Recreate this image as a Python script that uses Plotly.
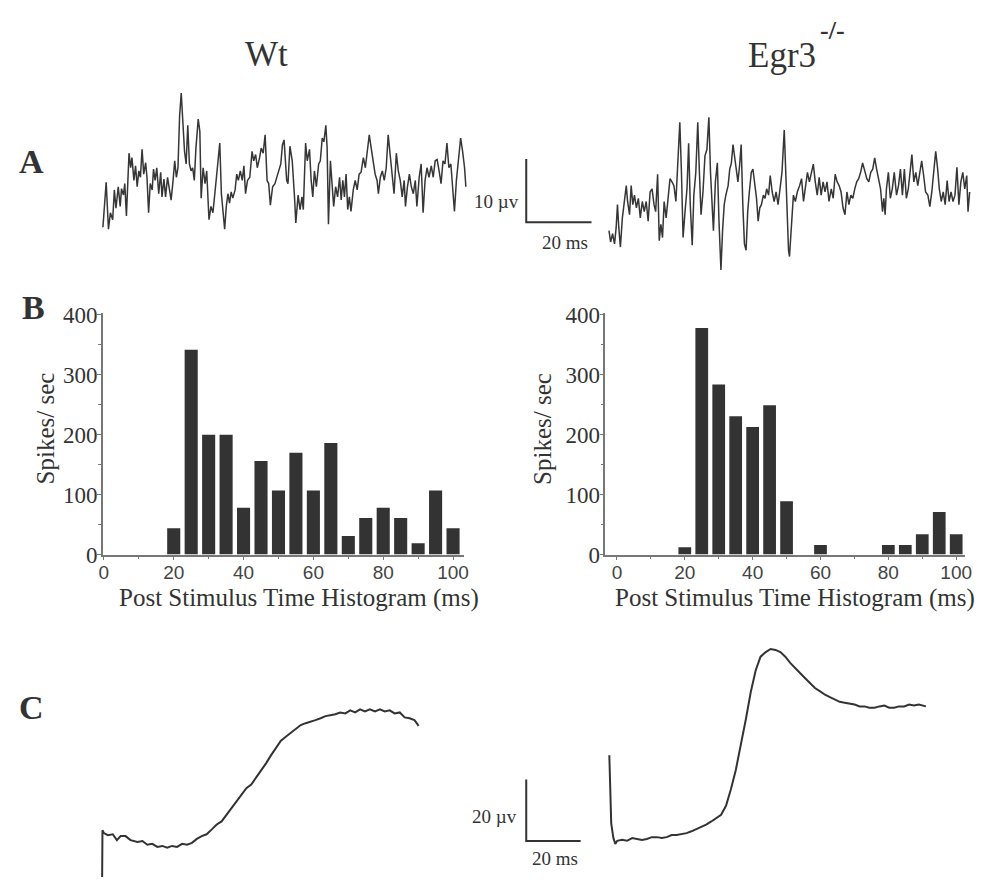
import plotly.graph_objects as go

# ---------------- DATA ----------------
# Panel B: post-stimulus time histogram (bin centre, ms) and rates (spikes/sec)
BIN_MS = [20, 25, 30, 35, 40, 45, 50, 55, 60, 65, 70, 75, 80, 85, 90, 95, 100]
WT_RATE = [44, 342, 200, 200, 78, 156, 107, 170, 107, 186, 31, 61, 78, 61, 19, 107, 44]
EGR3_RATE = [12, 378, 284, 231, 213, 249, 89, 0, 16, 0, 0, 0, 16, 16, 34, 71, 34]
X_TICKS = [0, 20, 40, 60, 80, 100]
X_MINOR = [10, 30, 50, 70, 90]
Y_TICKS = [0, 100, 200, 300, 400]
Y_MINOR = [50, 150, 250, 350]

# Panel A: spontaneous recordings (time ms, potential µV)
WT_A_T = [0, 1, 1.7, 2.3, 3, 3.5, 4, 4.7, 5.3, 5.7, 6.3, 6.7, 7.2, 8, 8.5, 8.9, 9.5, 10, 10.5, 11, 11.5, 12, 12.5, 13.1,
          13.5, 14, 14.5, 15.1, 15.5, 16, 16.5, 17.1, 17.7, 18.1, 18.7, 19.2, 19.8, 20.3, 20.9, 21.5, 22, 22.5, 23, 23.5,
          24, 24.5, 25, 25.5, 26, 26.5, 27, 27.5, 28, 28.5, 29.2, 29.7, 30.1, 30.7, 31.3, 31.8, 32.5, 33.1, 33.7, 34.5,
          35.3, 35.8, 36.3, 36.8, 37.3, 37.8, 38.3, 38.8, 39.3, 39.8, 40.5, 41, 41.5, 42.1, 42.7, 43.2, 43.7, 44.3, 45,
          45.7, 46.2, 46.8, 47.3, 48, 48.5, 49.1, 49.7, 50.3, 50.8, 51.3, 52, 52.7, 53.3, 54, 54.5, 55, 55.5, 56.3, 56.7,
          57.3, 58, 58.7, 59.1, 59.8, 60.4, 61, 61.4, 62.1, 62.6, 63.3, 63.8, 64.3, 64.8, 65.4, 66.1, 66.6, 67.2, 67.7,
          68.3, 68.7, 69.1, 69.7, 70.2, 70.7, 71.3, 71.9, 72.5, 73, 73.5, 74, 74.5, 75, 75.5, 76, 76.7, 77.3, 77.9, 78.5,
          79.1, 79.8, 80.4, 81, 81.6, 82.2, 82.8, 83.4, 84, 84.4, 85, 85.6, 86.2, 86.8, 87.4, 88, 88.6, 89.2, 89.9, 90.5,
          91.1, 91.7, 92.3, 92.7, 93.3, 93.9, 94.5, 95.1, 95.7, 96.2, 96.9, 97.5, 98.1, 98.7, 99.3, 99.9, 100.6, 101.2,
          101.8, 102.4, 103, 103.6, 104.2, 104.8, 105.4, 106, 106.6, 107.2, 107.7, 108.3, 109, 109.6, 110.2, 110.8, 111.2]
WT_A_UV = [0.3, 7.4, 0, 2.6, 1.5, 6.2, 3.3, 6.7, 3.6, 6.4, 5.4, 7.2, 2.1, 12, 9.7, 11.3, 7.7, 10, 6.7, 9.2, 8.2, 12.6, 8.7,
           10.5, 8.2, 2.6, 7.2, 6.2, 9.5, 7.7, 9.7, 5.6, 9, 5.1, 7.9, 5.1, 8.2, 6.2, 4.6, 7.7, 10.8, 8.2, 9.7, 17.9, 21.5,
           16.9, 12.3, 10.3, 16.4, 10.3, 9.2, 9.7, 7.7, 12.8, 17.4, 15.4, 4.9, 9.7, 7.2, 9.2, 1.5, 3.6, 2.6, 6.7, 11.3,
           13.6, 5.6, 2.6, 0, 3.6, 5.6, 4.1, 5.9, 4.9, 6.2, 8.7, 7.7, 9.2, 7.7, 10, 5.6, 7.7, 8.2, 12.3, 10.8, 11.8, 9.7,
           11.3, 12.8, 12, 14.9, 7.7, 7.2, 3.8, 6.7, 7.2, 8.2, 9.2, 10.3, 13.3, 14.1, 7.7, 7.2, 13.1, 10.8, 5.1, 1, 5.4,
           3.1, 5.1, 3.1, 13.6, 10.8, 12.6, 7.7, 5.1, 9.2, 6.7, 10.3, 10.8, 14.4, 13.8, 16.4, 12.8, 0.8, 10.8, 6.7, 3.6,
           6.7, 5.1, 8.2, 4.6, 7.7, 5.1, 8.7, 3.1, 5.1, 2.8, 6.2, 7.7, 6.2, 8.7, 9, 11.3, 9.7, 12.8, 14.9, 12.8, 10.3, 8.7,
           7.7, 5.6, 8.2, 9.2, 7.7, 9.7, 14.9, 11.8, 9.2, 5.6, 12, 9.2, 7.7, 5.1, 7.7, 3.6, 6.7, 8.7, 6.7, 5.6, 7.7, 3.6,
           8.2, 10.3, 2.6, 7.7, 9.7, 8.2, 10, 8.2, 10.8, 11, 9.2, 7.2, 10.8, 10.3, 13.6, 9.7, 10.3, 6.2, 2.8, 7.7, 12,
           14.4, 12.3, 9.7, 6.7]

EGR3_A_T = [0.2, 0.7, 1.3, 1.9, 2.4, 2.8, 3.2, 3.7, 4.3, 4.9, 5.5, 5.9, 6.5, 7, 7.5, 8, 8.6, 9.2, 9.8, 10.4, 11, 11.6,
            12.2, 12.8, 13.4, 14, 14.5, 15.1, 15.6, 16.1, 16.6, 17.1, 17.7, 18.3, 18.9, 19.5, 20.1, 20.7, 21.3, 21.9,
            22.4, 22.9, 23.5, 24.1, 24.6, 25.1, 25.7, 26.2, 26.8, 27.4, 27.9, 28.4, 29, 29.6, 30.2, 30.8, 31.3, 31.8,
            32.2, 32.8, 33.4, 33.9, 34.5, 35, 35.5, 36, 36.7, 37.2, 37.7, 38.2, 38.7, 39.2, 39.7, 40.2, 40.7, 41.2,
            41.7, 42.2, 42.7, 43.2, 43.8, 44.3, 44.8, 45.4, 45.9, 46.4, 46.9, 47.5, 48, 48.5, 49.1, 49.6, 50.2, 50.8,
            51.4, 52, 52.6, 53.2, 53.9, 54.7, 55.2, 55.5, 56.2, 56.7, 57.3, 57.9, 58.6, 59.2, 59.8, 60.4, 61, 61.6,
            62.2, 62.8, 63.4, 64, 64.6, 65.2, 65.8, 66.4, 67, 67.6, 68.3, 68.9, 69.5, 70.1, 70.7, 71.3, 71.9, 72.5,
            73.1, 73.7, 74.3, 74.9, 75.5, 76.1, 76.7, 77.3, 77.9, 78.6, 79.2, 79.8, 80.4, 81, 81.6, 82.2, 82.8, 83.4,
            84, 84.4, 84.8, 85.2, 85.8, 86.4, 87, 87.6, 88.3, 88.9, 89.5, 90.1, 90.7, 91.3, 91.9, 92.5, 93, 93.6, 94.2,
            94.8, 95.4, 96, 96.6, 97.2, 97.9, 98.5, 99.1, 99.7, 100.3, 100.9, 101.4, 102, 102.6, 103.2, 103.8, 104.4,
            105, 105.6, 106.2, 106.8, 107.4, 108, 108.6, 109.2, 109.8, 110.2, 110.7]
EGR3_A_UV = [6.7, 4.9, 6.2, 4.6, 7.2, 10.8, 7.2, 4.1, 8.7, 11.8, 13.8, 11.3, 9.2, 13.8, 10.8, 12.3, 10.3, 11.8, 8.7,
             11.3, 9.7, 11.3, 8.2, 12.8, 13.3, 10.8, 9.7, 15.6, 5.1, 7.7, 5.6, 11.3, 8.7, 11.8, 14.9, 14.4, 13.8, 11.3,
             18.5, 23.8, 15.9, 5.6, 9.7, 13.3, 20.5, 10.8, 4.4, 12.3, 15.9, 23.8, 15.9, 9.2, 12.8, 18.5, 19.5, 24.6,
             15.9, 9.2, 6.7, 14.4, 17.4, 8.2, 0.5, 6.7, 10.8, 12.3, 13.8, 16.4, 17.4, 20.3, 18.5, 15.9, 14.4, 16.9,
             20.3, 10.8, 4.6, 3.6, 9.7, 12.8, 15.9, 16.4, 14.4, 11.8, 8.2, 10.3, 10.8, 12.3, 11.8, 13.3, 12.3, 15.4,
             12.8, 11.3, 12.8, 10.8, 13.3, 15.9, 22.6, 10.8, 3.6, 2.6, 8.2, 12.3, 11.3, 12.8, 13.8, 14.9, 11.3, 13.3,
             15.9, 14.4, 15.9, 17.2, 14.4, 12.3, 15.1, 12.3, 14.4, 12.8, 14.4, 11.3, 13.3, 11.8, 15.6, 14.4, 13.8, 12.8,
             10.3, 9.2, 12.8, 10.8, 12.3, 11.8, 13.3, 14.4, 14.9, 15.9, 17.4, 15.9, 14.9, 14.4, 15.9, 16.4, 18.2, 16.4,
             14.9, 13.3, 9.7, 11.8, 9.2, 13.3, 15.9, 11.8, 13.3, 15.9, 12.3, 13.8, 16.4, 12.3, 16.4, 11.8, 13.3, 16.4,
             18.7, 14.4, 15.9, 13.8, 15.9, 17.7, 15.4, 12.8, 12.3, 10.5, 12.8, 15.9, 19.2, 16.4, 13.3, 11.3, 12.8, 10.8,
             14.6, 11.3, 12.8, 11.3, 12.3, 16.7, 10.8, 14.4, 15.9, 13.3, 15.4, 9.7, 12.8]

# Panel C: averaged evoked potentials (time ms, potential µV)
WT_C_T = [0, 0.2, 0.7, 2.2, 4, 5.5, 6.9, 8.7, 10.5, 13.1, 14.9, 16.7, 18.5, 20.4, 22.2, 24, 25.8, 27.6, 29.5, 31.3,
          33.1, 34.9, 36.7, 38.5, 40.4, 42.2, 44, 45.8, 47.6, 49.5, 51.3, 53.1, 54.9, 56.7, 58.5, 60.4, 62.2, 64, 65.8,
          67.6, 69.5, 71.3, 73.1, 74.9, 76.7, 78.5, 80.4, 82.2, 84, 85.8, 87.6, 89.5, 91.3, 93.1, 94.9, 96.7, 98.5,
          100.4, 102.2, 104, 105.8, 107.6, 109.5, 111.3, 113.1, 114.9, 116, 116.4]
WT_C_UV = [-20, 5.7, 4.8, 4.1, 4.4, 2.5, 3.8, 3.8, 2.5, 1.9, 2.2, 1, 1.3, 0.3, 0.6, 0, 0.6, 0.3, 1.3, 1, 1.6, 2.9, 3.8,
           4.4, 6, 7.6, 8.6, 10.8, 12.7, 15.2, 17.1, 19.4, 20.6, 22.9, 24.8, 27.6, 30.2, 32.7, 34.9, 36.2, 37.5, 38.7,
           40, 40.6, 41, 41.6, 42.2, 42.9, 43.2, 43.5, 44.1, 43.8, 44.8, 44.1, 45.1, 44.4, 45.1, 44.4, 45.1, 44.4, 44.8,
           43.8, 44.1, 42.5, 42.2, 41.6, 40.3, 39.7]

EGR3_C_T = [0, 0.4, 0.7, 1.5, 2.2, 2.9, 4.7, 6.5, 8.4, 10.2, 12, 13.8, 15.6, 17.5, 19.3, 21.1, 22.9, 24.7, 26.5, 28.4,
            30.2, 32, 33.8, 35.6, 37.5, 39.3, 41.1, 42.9, 44.7, 46.5, 48.4, 50.2, 52, 53.8, 55.6, 57.5, 59.3, 61.1,
            62.9, 64.7, 66.5, 68.4, 70.2, 72, 73.8, 75.6, 77.5, 79.3, 81.1, 82.9, 84.7, 86.5, 88.4, 90.2, 92, 93.8,
            95.6, 97.5, 99.3, 101.1, 102.9, 104.7, 106.5, 108.4, 110.2, 112, 113.8, 115.6, 116.4]
EGR3_C_UV = [28.9, 17.8, 6.7, 1.9, 0, 1, 1.3, 1, 1.9, 1.6, 1.3, 1.6, 2.2, 2.2, 1.9, 2.2, 2.9, 2.9, 3.2, 3.5, 4.1, 4.8,
             5.4, 6.3, 7.3, 8.3, 9.5, 12.4, 17.8, 24.1, 32.1, 40.6, 49.5, 56.5, 61, 62.5, 63.5, 63.2, 62.5, 61, 59,
             57.1, 55.6, 54, 52.4, 50.8, 49.7, 48.6, 47.8, 47, 46.3, 46, 45.7, 45.4, 44.8, 44.8, 44.4, 44.4, 44.8, 45.1,
             44.4, 44.4, 44.8, 44.8, 45.4, 45.1, 45.4, 45.1, 44.8]

# Calibration bars (ms, µV)
SCALE_A = (20, 10)
SCALE_C = (20, 20)

# ---------------- LAYOUT HELPERS ----------------
W, H = 1008, 890
INK = "#333333"
SERIF = "Liberation Serif, Times New Roman, serif"
SANS = "Liberation Sans, Arial, sans-serif"


def dom_x(p0, p1):
    return [p0 / W, p1 / W]


def dom_y(top, bot):
    return [1 - bot / H, 1 - top / H]


def rng_x(p0, p1, origin, ppu):
    return [(p0 - origin) / ppu, (p1 - origin) / ppu]


def rng_y(top, bot, origin, ppu):
    return [(origin - bot) / ppu, (origin - top) / ppu]


def hidden(domain, rng, anchor):
    return dict(domain=domain, range=rng, visible=False, showgrid=False, zeroline=False,
                anchor=anchor, fixedrange=True)


fig = go.Figure()

# Panel A traces
fig.add_trace(go.Scatter(x=WT_A_T, y=WT_A_UV, mode="lines", line=dict(color="#363636", width=1.5),
                         xaxis="x", yaxis="y", hoverinfo="skip"))
fig.add_trace(go.Scatter(x=EGR3_A_T, y=EGR3_A_UV, mode="lines", line=dict(color="#363636", width=1.5),
                         xaxis="x2", yaxis="y2", hoverinfo="skip"))
fig.add_trace(go.Scatter(x=[0, 0, SCALE_A[0]], y=[SCALE_A[1], 0, 0], mode="lines",
                         line=dict(color=INK, width=2), xaxis="x3", yaxis="y3", hoverinfo="skip"))

# Panel B histograms
fig.add_trace(go.Bar(x=BIN_MS, y=WT_RATE, width=3.75, marker=dict(color=INK, line=dict(width=0)),
                     xaxis="x4", yaxis="y4", hoverinfo="skip"))
fig.add_trace(go.Bar(x=BIN_MS, y=EGR3_RATE, width=3.75, marker=dict(color=INK, line=dict(width=0)),
                     xaxis="x5", yaxis="y5", hoverinfo="skip"))

# Panel C traces
fig.add_trace(go.Scatter(x=WT_C_T, y=WT_C_UV, mode="lines", line=dict(color=INK, width=2),
                         xaxis="x6", yaxis="y6", hoverinfo="skip"))
fig.add_trace(go.Scatter(x=EGR3_C_T, y=EGR3_C_UV, mode="lines", line=dict(color=INK, width=2),
                         xaxis="x7", yaxis="y7", hoverinfo="skip"))
fig.add_trace(go.Scatter(x=[0, 0, SCALE_C[0]], y=[SCALE_C[1], 0, 0], mode="lines",
                         line=dict(color=INK, width=2), xaxis="x8", yaxis="y8", hoverinfo="skip"))

# pixel geometry of the panels
A_PPX, A_PPY = 3.3, 6.5
C_PPX, C_PPY = 2.75, 3.15

layout_axes = dict(
    xaxis=hidden(dom_x(95, 475), rng_x(95, 475, 100, A_PPX), "y"),
    yaxis=hidden(dom_y(70, 240), rng_y(70, 240, 225, A_PPY), "x"),
    xaxis2=hidden(dom_x(605, 985), rng_x(605, 985, 611, A_PPX), "y2"),
    yaxis2=hidden(dom_y(95, 285), rng_y(95, 285, 270, A_PPY), "x2"),
    xaxis3=hidden(dom_x(520, 605), rng_x(520, 605, 528, A_PPX), "y3"),
    yaxis3=hidden(dom_y(145, 225), rng_y(145, 225, 218, A_PPY), "x3"),
    xaxis6=hidden(dom_x(90, 440), rng_x(90, 440, 99, C_PPX), "y6"),
    yaxis6=hidden(dom_y(690, 890), rng_y(690, 890, 860, C_PPY), "x6"),
    xaxis7=hidden(dom_x(600, 950), rng_x(600, 950, 612, C_PPX), "y7"),
    yaxis7=hidden(dom_y(640, 890), rng_y(640, 890, 856, C_PPY), "x7"),
    xaxis8=hidden(dom_x(520, 590), rng_x(520, 590, 528, C_PPX), "y8"),
    yaxis8=hidden(dom_y(780, 860), rng_y(780, 860, 853, C_PPY), "x8"),
)

AX_COL = "#777777"


def hist_x(domain, rng, anchor):
    return dict(domain=domain, range=rng, anchor=anchor, showline=True, linecolor=AX_COL, linewidth=1.5,
                ticks="outside", ticklen=4, tickwidth=1.3, tickcolor=AX_COL, ticklabelstandoff=-4,
                tickvals=X_TICKS, ticktext=[str(v) for v in X_TICKS],
                tickfont=dict(family=SANS, size=19, color="#444444"),
                minor=dict(tickvals=X_MINOR, ticks="outside", ticklen=3, tickwidth=1.2, tickcolor=AX_COL),
                showgrid=False, zeroline=False, fixedrange=True)


def hist_y(domain, rng, anchor):
    return dict(domain=domain, range=rng, anchor=anchor, showline=True, linecolor=AX_COL, linewidth=1.5,
                ticks="outside", ticklen=4, tickwidth=1.3, tickcolor=AX_COL, ticklabelstandoff=-5,
                tickvals=Y_TICKS, ticktext=[str(v) for v in Y_TICKS],
                tickfont=dict(family=SERIF, size=23, color=INK),
                minor=dict(tickvals=Y_MINOR, ticks="outside", ticklen=3, tickwidth=1.2, tickcolor=AX_COL),
                showgrid=False, zeroline=False, fixedrange=True)


B_PPY = (559 - 313) / 400
layout_axes["xaxis4"] = hist_x(dom_x(100, 465), rng_x(100, 465, 101, 3.53), "y4")
layout_axes["yaxis4"] = hist_y(dom_y(311, 559), rng_y(311, 559, 559, B_PPY), "x4")
layout_axes["xaxis5"] = hist_x(dom_x(608, 972), rng_x(608, 972, 619.7, 3.43), "y5")
layout_axes["yaxis5"] = hist_y(dom_y(311, 559), rng_y(311, 559, 559, B_PPY), "x5")


def ann(text, px, py, size, family=SERIF, bold=False, angle=0, xanchor="center", color=INK):
    if bold:
        text = "<b>" + text + "</b>"
    return dict(text=text, x=px / W, y=1 - py / H, xref="paper", yref="paper",
                showarrow=False, xanchor=xanchor, yanchor="middle", textangle=angle,
                font=dict(family=family, size=size, color=color))


annotations = [
    ann("Wt", 265, 46, 35),
    ann("Egr3", 787, 47, 35),
    ann("-/-", 838, 21, 26, bold=True),
    ann("A", 28, 156, 34, bold=True),
    ann("B", 30, 305, 34, bold=True),
    ann("C", 28, 716, 34, bold=True),
    ann(f"{SCALE_A[1]} µv", 523, 197, 19, xanchor="right"),
    ann(f"{SCALE_A[0]} ms", 567, 239, 19),
    ann(f"{SCALE_C[1]} µv", 521, 828, 19, xanchor="right"),
    ann(f"{SCALE_C[0]} ms", 557, 871, 19),
    ann("Spikes/ sec", 42, 430, 25, angle=-90),
    ann("Spikes/ sec", 545, 430, 25, angle=-90),
    ann("Post Stimulus Time Histogram (ms)", 298, 604, 25),
    ann("Post Stimulus Time Histogram (ms)", 800, 604, 25),
]

fig.update_layout(
    width=W, height=H, margin=dict(l=0, r=0, t=0, b=0),
    paper_bgcolor="white", plot_bgcolor="rgba(0,0,0,0)",
    showlegend=False, annotations=annotations, **layout_axes,
)

# the page body normally has an 8 px margin; remove it so the figure fills the window exactly
fig.write_html("out.html", config={"displayModeBar": False},
               post_script="document.body.style.margin='0';document.body.style.overflow='hidden';")
